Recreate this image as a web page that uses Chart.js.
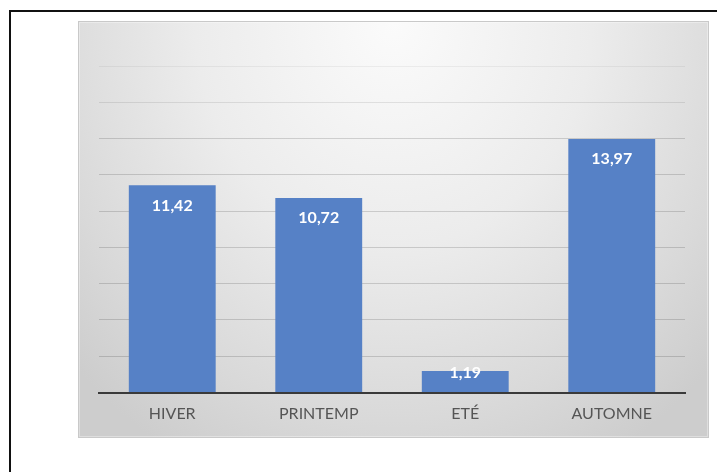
<!DOCTYPE html>
<html>
<head>
<meta charset="utf-8">
<script src="https://cdn.jsdelivr.net/npm/chart.js@4.4.0/dist/chart.umd.min.js"></script>
<style>
  html, body { margin: 0; padding: 0; background: #fff; width: 717px; height: 472px; overflow: hidden; }
  .frame {
    position: absolute; left: 9px; top: 10px; width: 760px; height: 520px;
    border: 2px solid #111;
  }
  .panel {
    position: absolute; left: 78px; top: 21px; width: 629px; height: 415px;
    border: 1px solid #c9c9c9;
    background: radial-gradient(ellipse 70% 120% at 50% 0%, #fbfbfb 0%, #ececec 45%, #d9d9d9 80%, #cdcdcd 100%);
    box-shadow: inset 0 0 0 1px rgba(255,255,255,0.35);
  }
  #chart { position: absolute; left: 78px; top: 21px; }
</style>
</head>
<body>
<div class="frame"></div>
<div class="panel"></div>
<canvas id="chart" width="631" height="417"></canvas>
<script>
// seasons and their values
const seasons = ['HIVER', 'PRINTEMP', 'ETÉ', 'AUTOMNE'];
const values = [11.42, 10.72, 1.19, 13.97];
const yMin = 0;
const yMax = 18;
const yStep = 2;

const barBlue = '#5681c6';

// write the value inside the top of each bar, with a decimal comma
const valueLabels = {
  id: 'valueLabels',
  afterDatasetsDraw(chart) {
    const ctx = chart.ctx;
    const meta = chart.getDatasetMeta(0);
    ctx.save();
    ctx.font = 'bold 16px Lato';
    ctx.fillStyle = '#ffffff';
    ctx.textAlign = 'center';
    ctx.textBaseline = 'middle';
    meta.data.forEach((bar, i) => {
      const y = Math.min(bar.y + 20, bar.base - 19);
      ctx.fillText(values[i].toFixed(2).replace('.', ','), bar.x, y);
    });
    ctx.restore();
  }
};

// gridlines fade out toward the light top of the panel
function gridColor(c) {
  const v = c.tick ? c.tick.value : 0;
  if (v >= 18) return 'rgba(0,0,0,0.05)';
  if (v >= 16) return 'rgba(0,0,0,0.09)';
  return 'rgba(0,0,0,0.15)';
}

function draw() {
  new Chart(document.getElementById('chart'), {
    type: 'bar',
    data: {
      labels: seasons,
      datasets: [{
        data: values,
        backgroundColor: barBlue,
        barPercentage: 0.593,
        categoryPercentage: 1
      }]
    },
    options: {
      responsive: false,
      animation: false,
      devicePixelRatio: 1,
      layout: { padding: { left: 21, right: 24, top: 45, bottom: 0 } },
      plugins: {
        legend: { display: false },
        tooltip: { enabled: false }
      },
      scales: {
        x: {
          grid: { display: false, drawTicks: false },
          border: { color: '#3a3a3a', width: 2 },
          ticks: {
            color: '#555555',
            font: { family: 'Lato', size: 16 },
            padding: 12
          },
          afterFit(scale) { scale.height = 45.5; }
        },
        y: {
          min: yMin,
          max: yMax,
          ticks: { display: false, stepSize: yStep },
          grid: { color: gridColor, lineWidth: 1, drawTicks: false },
          border: { display: false },
          afterFit(scale) { scale.width = 0; }
        }
      }
    },
    plugins: [valueLabels]
  });
}

document.fonts.load('16px Lato').then(draw, draw);
</script>
</body>
</html>
